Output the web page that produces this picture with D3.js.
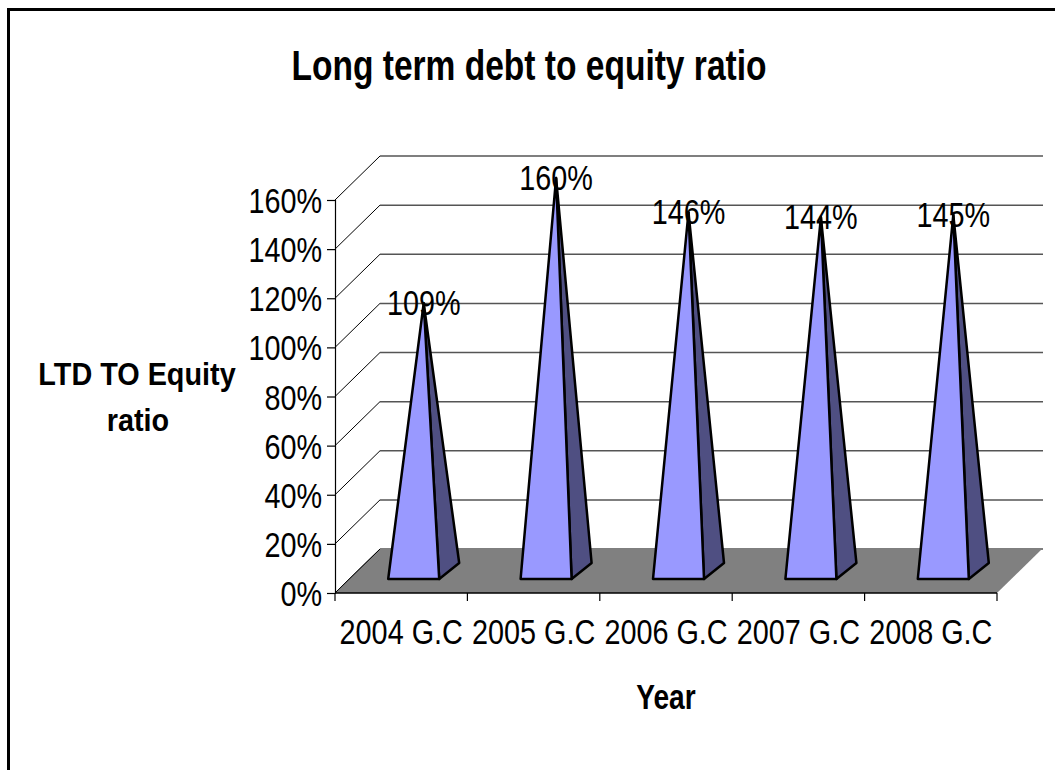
<!DOCTYPE html>
<html>
<head>
<meta charset="utf-8">
<script src="https://cdn.jsdelivr.net/npm/d3@7"></script>
<style>
  html, body { margin: 0; padding: 0; background: #fff; }
  svg { display: block; }
  text { font-family: "Liberation Sans", Arial, sans-serif; fill: #000; }
</style>
</head>
<body>
<svg id="chart" width="1055" height="770"></svg>
<script>
// Long term debt to equity ratio, by year
const categories = ["2004 G.C", "2005 G.C", "2006 G.C", "2007 G.C", "2008 G.C"];
const ratios = [1.09, 1.60, 1.46, 1.44, 1.45];
const dataLabels = ["109%", "160%", "146%", "144%", "145%"];
const yTicks = [0, 0.2, 0.4, 0.6, 0.8, 1.0, 1.2, 1.4, 1.6];

const svg = d3.select("#chart");

// plot box (front plane) and oblique depth of the 3D box
const front = { left: 335, right: 997, top: 200, bottom: 593 };
const depth = { dx: 45, dy: -44 };
const mid = { dx: depth.dx / 2, dy: depth.dy / 2 };
// pyramid base: half-width along x, and half of its depth offset
const baseHalf = 25.5, baseDepth = { dx: 10, dy: -8 };

const x = d3.scaleBand().domain(categories).range([front.left, front.right]);
const y = d3.scaleLinear().domain([0, 1.6]).range([front.bottom, front.top]);

// helper: text with horizontal condensing
function label(g, txt, px, py, size, opts = {}) {
  const sx = opts.sx || 0.8;
  return g.append("text")
    .attr("transform", `translate(${px},${py}) scale(${sx},1)`)
    .attr("text-anchor", opts.anchor || "middle")
    .attr("font-size", size)
    .attr("font-weight", opts.bold ? "bold" : "normal")
    .text(txt);
}

// outer frame
svg.append("rect")
  .attr("x", 8.5).attr("y", 9.5)
  .attr("width", 1100).attr("height", 800)
  .attr("fill", "none").attr("stroke", "#000").attr("stroke-width", 3);

// side wall diagonals and back wall gridlines
const grid = svg.append("g");
yTicks.forEach(v => {
  const y0 = y(v);
  grid.append("line")
    .attr("x1", front.left).attr("y1", y0)
    .attr("x2", front.left + depth.dx).attr("y2", y0 + depth.dy)
    .attr("stroke", "#000").attr("stroke-width", 1);
  grid.append("line")
    .attr("x1", front.left + depth.dx).attr("y1", y0 + depth.dy)
    .attr("x2", front.right + depth.dx + 1).attr("y2", y0 + depth.dy)
    .attr("stroke", "#555").attr("stroke-width", 1.5);
});

// floor
const fy = y(0);
svg.append("path")
  .attr("d", d3.line()([
    [front.left, fy], [front.right, fy],
    [front.right + depth.dx, fy + depth.dy], [front.left + depth.dx, fy + depth.dy]
  ]) + "Z")
  .attr("fill", "#808080").attr("stroke", "none");
svg.append("line")
  .attr("x1", front.left).attr("y1", fy)
  .attr("x2", front.left + depth.dx).attr("y2", fy + depth.dy)
  .attr("stroke", "#000").attr("stroke-width", 1);

// pyramids
const pyr = svg.append("g")
  .attr("stroke", "#000").attr("stroke-width", 2.5).attr("stroke-linejoin", "round");
categories.forEach((c, i) => {
  const cx = x(c) + x.bandwidth() / 2 + mid.dx;
  const cy = y(0) + mid.dy;
  const apex = [cx, y(ratios[i]) + mid.dy];
  const fl = [cx - baseDepth.dx - baseHalf, cy - baseDepth.dy];
  const fr = [cx - baseDepth.dx + baseHalf, cy - baseDepth.dy];
  const br = [cx + baseDepth.dx + baseHalf, cy + baseDepth.dy];
  pyr.append("path").attr("d", d3.line()([fr, br, apex]) + "Z").attr("fill", "#4f4f82");
  pyr.append("path").attr("d", d3.line()([fl, fr, apex]) + "Z").attr("fill", "#9999ff");
});

// value labels
const vl = svg.append("g");
categories.forEach((c, i) => {
  const cx = x(c) + x.bandwidth() / 2 + mid.dx;
  label(vl, dataLabels[i], cx, y(ratios[i]) + mid.dy + 12, 36);
});

// y axis
const yAxis = svg.append("g")
  .attr("transform", `translate(${front.left},0)`)
  .call(d3.axisLeft(y).tickValues(yTicks).tickSize(8).tickFormat(d3.format(".0%")));
yAxis.select(".domain").attr("stroke", "#000").attr("stroke-width", 1.2);
yAxis.selectAll(".tick line").attr("stroke", "#000").attr("stroke-width", 1.2);
yAxis.selectAll(".tick text").remove();
yTicks.forEach(v => {
  label(svg, d3.format(".0%")(v), front.left - 13, y(v) + 13, 36, { anchor: "end" });
});

// x axis: front edge of floor, ticks at category boundaries
svg.append("line")
  .attr("x1", front.left).attr("y1", fy).attr("x2", front.right).attr("y2", fy)
  .attr("stroke", "#000").attr("stroke-width", 1.5);
const bounds = categories.map(c => x(c)).concat([front.right]);
bounds.forEach(b => {
  svg.append("line")
    .attr("x1", b).attr("y1", fy).attr("x2", b).attr("y2", fy + 8)
    .attr("stroke", "#000").attr("stroke-width", 1.2);
});
categories.forEach(c => {
  label(svg, c, x(c) + x.bandwidth() / 2, 644, 36);
});

// titles
label(svg, "Long term debt to equity ratio", 529, 80, 43, { bold: true, sx: 0.78 });
label(svg, "Year", (front.left + front.right) / 2, 709, 36, { bold: true, sx: 0.78 });
label(svg, "LTD TO Equity", 137, 385, 32, { bold: true, sx: 0.9 });
label(svg, "ratio", 138, 431, 32, { bold: true, sx: 0.9 });
</script>
</body>
</html>
